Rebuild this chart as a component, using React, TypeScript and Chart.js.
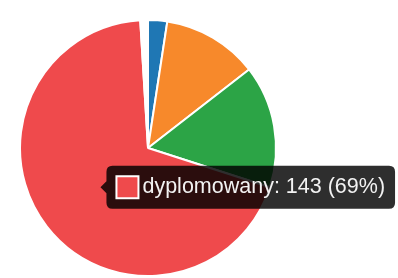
import React, { useEffect, useRef } from "react";
import { Chart, registerables } from "chart.js";

Chart.register(...registerables);

const categories = ["profesor", "doktor habilitowany", "doktor", "dyplomowany", "inny"];
const counts = [5, 25, 32, 143, 2];
const sliceColors = ["#1f77b4", "#f7892b", "#2ca446", "#ef4a4c", "#ffffff"];
const activeLabel = "dyplomowany";

export default function App() {
  const ref = useRef<HTMLCanvasElement | null>(null);

  useEffect(() => {
    if (!ref.current) return;
    const total = counts.reduce((a, b) => a + b, 0);
    const chart = new Chart(ref.current, {
      type: "pie",
      data: {
        labels: categories,
        datasets: [
          {
            data: counts,
            backgroundColor: sliceColors,
            borderColor: "#ffffff",
            borderWidth: 2,
            hoverOffset: 0,
          },
        ],
      },
      options: {
        responsive: false,
        animation: false,
        devicePixelRatio: 1,
        layout: { padding: { left: 19, top: 19, right: 121, bottom: 1 } },
        plugins: {
          legend: { display: false },
          tooltip: {
            enabled: true,
            backgroundColor: "rgba(0,0,0,0.82)",
            bodyColor: "#f2f2f2",
            bodyFont: { family: "'Liberation Sans', Arial, sans-serif", size: 21.5, lineHeight: 1.25 },
            padding: { left: 10, right: 10, top: 8, bottom: 8 },
            boxWidth: 22,
            boxHeight: 22,
            boxPadding: 2,
            caretSize: 6,
            caretPadding: 3,
            cornerRadius: 6,
            xAlign: "left",
            yAlign: "center",
            displayColors: true,
            callbacks: {
              title: () => [],
              label: (ctx: any) => {
                const v = ctx.raw as number;
                const pct = Math.round((v / total) * 100);
                return `${ctx.label}: ${v} (${pct}%)`;
              },
            },
          },
        },
      },
    });
    const idx = categories.indexOf(activeLabel);
    chart.tooltip!.setActiveElements([{ datasetIndex: 0, index: idx }], { x: 0, y: 0 });
    chart.update();
    return () => chart.destroy();
  }, []);

  return (
    <div style={{ position: "fixed", left: 0, top: 0, width: 398, height: 278, background: "#ffffff" }}>
      <canvas ref={ref} width={398} height={278} style={{ width: 398, height: 278, display: "block" }} />
    </div>
  );
}
